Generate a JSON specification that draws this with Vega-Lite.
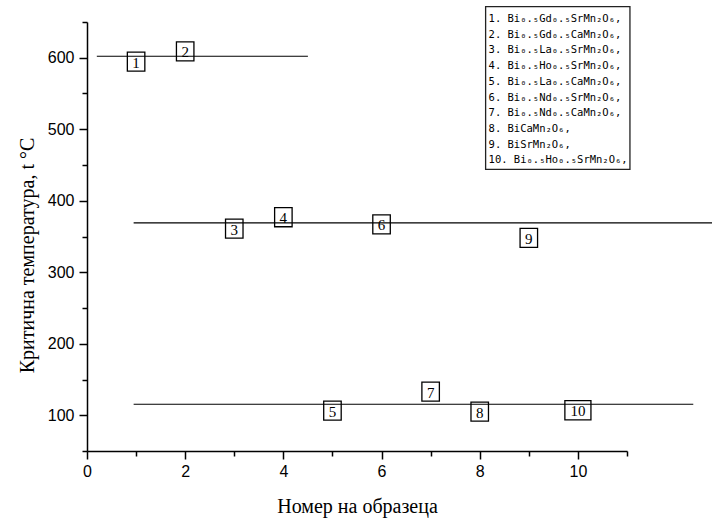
{
  "$schema": "https://vega.github.io/schema/vega-lite/v6.json",
  "autosize": {"type": "none"},
  "padding": {"left": 87, "top": 22, "right": 85, "bottom": 69},
  "width": 540,
  "height": 429,
  "background": "white",
  "config": {
    "view": {"stroke": null},
    "axis": {
      "grid": false,
      "domainColor": "black",
      "domainWidth": 1.5,
      "tickColor": "black",
      "tickWidth": 1.5,
      "labelFont": "Liberation Sans",
      "labelFontSize": 16,
      "labelColor": "black",
      "titleFont": "Liberation Serif",
      "titleFontSize": 20,
      "titleFontWeight": "normal",
      "titleColor": "black"
    }
  },
  "datasets": {
    "points": [
      {"n": 1, "t": 594.5},
      {"n": 2, "t": 609},
      {"n": 3, "t": 361},
      {"n": 4, "t": 377},
      {"n": 5, "t": 106.5},
      {"n": 6, "t": 367},
      {"n": 7, "t": 133},
      {"n": 8, "t": 105},
      {"n": 9, "t": 348},
      {"n": 10, "t": 107}
    ],
    "lines": [
      {"start": 0.2, "end": 4.5, "t": 602},
      {"start": 0.95, "end": 12.9, "t": 369},
      {"start": 0.95, "end": 12.35, "t": 115.3}
    ],
    "legend": [
      {"lines": [
        "1. Bi₀.₅Gd₀.₅SrMn₂O₆,",
        "2. Bi₀.₅Gd₀.₅CaMn₂O₆,",
        "3. Bi₀.₅La₀.₅SrMn₂O₆,",
        "4. Bi₀.₅Ho₀.₅SrMn₂O₆,",
        "5. Bi₀.₅La₀.₅CaMn₂O₆,",
        "6. Bi₀.₅Nd₀.₅SrMn₂O₆,",
        "7. Bi₀.₅Nd₀.₅CaMn₂O₆,",
        "8. BiCaMn₂O₆,",
        "9. BiSrMn₂O₆,",
        "10. Bi₀.₅Ho₀.₅SrMn₂O₆,"
      ]}
    ]
  },
  "resolve": {"axis": {"x": "independent", "y": "independent"}},
  "layer": [
    {
      "data": {"name": "lines"},
      "mark": {"type": "rule", "color": "black", "strokeWidth": 1.1},
      "encoding": {
        "x": {
          "field": "start", "type": "quantitative",
          "scale": {"domain": [0, 11], "nice": false, "zero": false},
          "axis": {"orient": "bottom", "values": [0, 2, 4, 6, 8, 10], "tickSize": 8, "labelPadding": 4, "title": "Номер на образеца", "titleY": 61, "titleBaseline": "alphabetic", "labelFlush": false}
        },
        "x2": {"field": "end"},
        "y": {
          "field": "t", "type": "quantitative",
          "scale": {"domain": [50, 650], "nice": false, "zero": false},
          "axis": {"orient": "left", "values": [100, 200, 300, 400, 500, 600], "tickSize": 8, "labelPadding": 5, "title": "Критична температура, t °C", "titleFontSize": 20, "titleX": -54, "titleY": 233, "titleBaseline": "alphabetic", "titleAngle": -90, "labelFlush": false}
        }
      }
    },
    {
      "data": {"name": "points"},
      "mark": {"type": "point", "filled": false, "stroke": "black", "strokeWidth": 1.3, "opacity": 1, "size": 306},
      "encoding": {
        "x": {
          "field": "n", "type": "quantitative",
          "axis": {"orient": "bottom", "values": [1, 3, 5, 7, 9, 11], "tickSize": 5, "labels": false, "domain": false, "title": null}
        },
        "y": {
          "field": "t", "type": "quantitative",
          "axis": {"orient": "left", "values": [50, 150, 250, 350, 450, 550, 650], "tickSize": 5, "labels": false, "domain": false, "title": null}
        },
        "shape": {
          "condition": {"test": "datum.n == 10", "value": "M-1.49,-1.09H1.49V1.09H-1.49Z"},
          "value": "M-1,-1.09H1V1.09H-1Z"
        }
      }
    },
    {
      "data": {"name": "points"},
      "mark": {"type": "text", "font": "Liberation Serif", "fontSize": 15, "color": "black", "align": "center", "baseline": "middle", "dy": 1},
      "encoding": {
        "x": {"field": "n", "type": "quantitative", "axis": null},
        "y": {"field": "t", "type": "quantitative", "axis": null},
        "text": {"field": "n", "type": "nominal"}
      }
    },
    {
      "data": {"name": "legend"},
      "mark": {"type": "rect", "fill": "white", "stroke": "#222", "strokeWidth": 1.3},
      "encoding": {
        "x": {"datum": 8.12, "type": "quantitative", "axis": null},
        "x2": {"datum": 11.06},
        "y": {"datum": 671.4, "type": "quantitative", "axis": null},
        "y2": {"datum": 444}
      }
    },
    {
      "data": {"name": "legend"},
      "mark": {"type": "text", "font": "DejaVu Sans Mono", "fontSize": 10.5, "color": "black", "align": "left", "baseline": "alphabetic", "lineHeight": 15.7},
      "encoding": {
        "x": {"datum": 8.18, "type": "quantitative", "axis": null},
        "y": {"datum": 650, "type": "quantitative", "axis": null},
        "text": {"field": "lines", "type": "nominal"}
      }
    }
  ]
}
